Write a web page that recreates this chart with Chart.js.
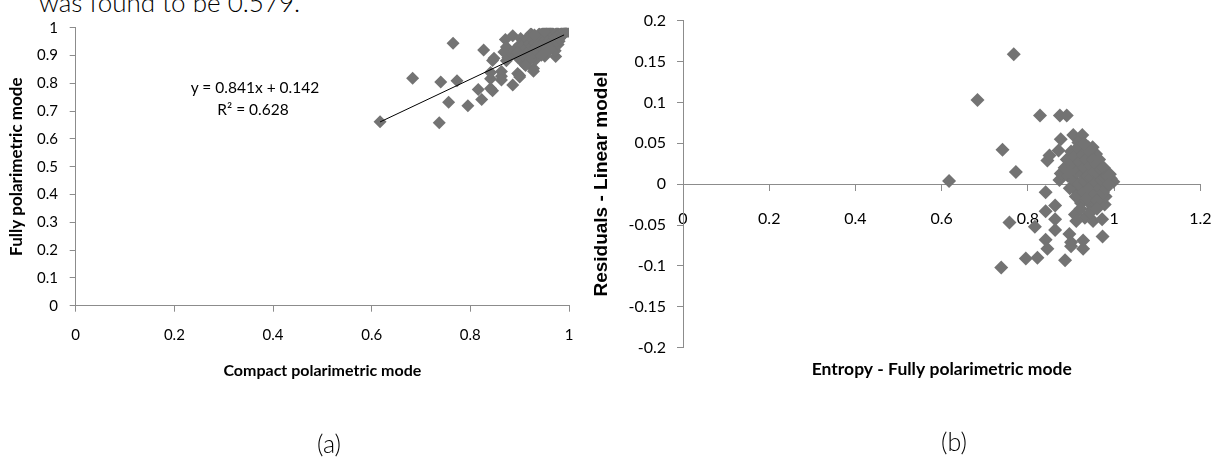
<!DOCTYPE html>
<html lang="en">
<head>
<meta charset="UTF-8"/>
<title>Entropy: compact vs fully polarimetric mode</title>
<style>
  body { margin:0; background:#fff; width:1231px; height:459px; overflow:hidden; position:relative; font-family:Lato, sans-serif; color:#000; }
  canvas { position:absolute; top:0; }
  #chartA { left:0; }
  #chartB { left:590px; }
  .txt { position:absolute; white-space:nowrap; line-height:1; }
  .c { transform:translate(-50%,-50%); }
</style>
<script src="https://cdn.jsdelivr.net/npm/chart.js@4.4.0/dist/chart.umd.min.js"></script>
</head>
<body>
  <div class="txt" style="left:39px;top:-11px;font-size:26px;line-height:26px;font-weight:300;">was found to be 0.579.</div>
  <canvas id="chartA" width="600" height="459"></canvas>
  <canvas id="chartB" width="641" height="459"></canvas>
  <div class="txt c" style="left:255px;top:88px;font-size:15.5px;">y = 0.841x + 0.142</div>
  <div class="txt c" style="left:253px;top:110px;font-size:15.5px;">R² = 0.628</div>
  <div class="txt c" style="left:329px;top:443px;font-size:25px;font-weight:300;">(a)</div>
  <div class="txt c" style="left:954px;top:441px;font-size:25px;font-weight:300;">(b)</div>

<script>
// (a) entropy, compact polarimetric mode (x) vs fully polarimetric mode (y)
var compactMode = [0.617,0.683,0.737,0.740,0.756,0.765,0.773,0.795,0.823,0.827,
  0.816,0.845,0.841,0.845,0.863,0.886,0.896,0.900,0.928,0.973,
  0.871,0.886,0.841,0.863,0.863,0.841,0.928,0.909,0.932,0.951,
  0.972,0.923,0.946,0.978,0.980,0.909,0.873,0.876,0.873,0.902,
  0.923,0.915,0.940,0.958,0.868,0.848,0.992,0.998,0.900,
  0.885,0.890,0.893,0.897,0.900,0.903,0.906,0.908,0.911,0.913,
  0.916,0.918,0.920,0.922,0.925,0.927,0.929,0.931,0.933,0.935,
  0.937,0.939,0.941,0.943,0.945,0.947,0.949,0.951,0.953,0.955,
  0.957,0.959,0.961,0.963,0.965,0.967,0.969,0.971,0.974,0.976,
  0.978,0.981,0.984,0.987,0.990,0.896,0.950,0.930,0.912,0.944,0.960];
var fullyMode = [0.662,0.818,0.658,0.805,0.732,0.944,0.809,0.719,0.742,0.920,
  0.778,0.773,0.816,0.882,0.842,0.794,0.835,0.828,0.843,0.896,
  0.958,0.971,0.781,0.825,0.812,0.839,0.853,0.870,0.885,0.897,
  0.917,0.895,0.913,0.940,0.951,0.900,0.881,0.892,0.931,0.961,
  0.978,0.963,0.978,0.985,0.913,0.890,0.983,0.986,0.823,
  0.906,0.921,0.903,0.891,0.939,0.923,0.909,0.939,0.893,0.925,
  0.957,0.914,0.943,0.887,0.932,0.958,0.913,0.945,0.930,0.958,
  0.912,0.942,0.973,0.930,0.959,0.946,0.910,0.972,0.958,0.933,
  0.949,0.974,0.930,0.964,0.984,0.950,0.975,0.964,0.951,0.983,
  0.973,0.962,0.980,0.972,0.987,0.911,0.986,0.974,0.864,0.901,0.919];
// trendline end points as drawn
var trendX = [0.617, 0.990];
var trendY = [0.661, 0.974];

// (b) residuals of the linear model
var entropyFull = [0.617,0.683,0.738,0.741,0.757,0.767,0.772,0.795,0.822,0.828,
  0.816,0.845,0.841,0.845,0.863,0.886,0.896,0.900,0.928,0.973,
  0.874,0.890,0.841,0.863,0.863,0.841,0.928,0.909,0.932,0.951,
  0.972,0.923,0.946,0.978,0.980,0.909,0.873,0.876,0.876,0.905,
  0.926,0.917,0.940,0.958,0.871,0.850,0.992,0.998,0.900,
  0.885,0.890,0.893,0.897,0.900,0.903,0.906,0.908,0.911,0.913,
  0.916,0.918,0.920,0.922,0.925,0.927,0.929,0.931,0.933,0.935,
  0.937,0.939,0.941,0.943,0.945,0.947,0.949,0.951,0.953,0.955,
  0.957,0.959,0.961,0.963,0.965,0.967,0.969,0.971,0.974,0.976,
  0.978,0.981,0.984,0.987,0.990,0.896,0.950,0.930,0.912,0.944,0.960];
var residuals = [0.004,0.103,-0.102,0.042,-0.047,0.159,0.015,-0.091,-0.090,0.084,
  -0.052,-0.079,-0.033,0.029,-0.026,-0.093,-0.061,-0.071,-0.079,-0.064,
  0.084,0.084,-0.068,-0.043,-0.056,-0.010,-0.069,-0.037,-0.041,-0.045,
  -0.043,-0.023,-0.025,-0.025,-0.015,-0.007,0.005,0.013,0.055,0.060,
  0.060,0.051,0.045,0.037,0.041,0.035,0.007,0.003,-0.076,
  0.020,0.030,0.010,-0.005,0.040,0.022,0.005,0.033,-0.015,0.015,
  0.045,0.000,0.027,-0.030,0.012,0.036,-0.010,0.020,0.003,0.030,
  -0.018,0.010,0.040,-0.005,0.022,0.008,-0.030,0.030,0.015,-0.012,
  0.002,0.025,-0.020,0.012,0.030,-0.005,0.018,0.005,-0.010,0.020,
  0.008,-0.005,0.010,0.000,0.012,0.015,0.045,0.050,-0.045,-0.035,-0.030];

// tick labels
var ticksA_x = [0, 0.2, 0.4, 0.6, 0.8, 1];
var ticksA_y = [0, 0.1, 0.2, 0.3, 0.4, 0.5, 0.6, 0.7, 0.8, 0.9, 1];
var ticksB_x = [0, 0.2, 0.4, 0.6, 0.8, 1, 1.2];
var ticksB_y = [-0.2, -0.15, -0.1, -0.05, 0, 0.05, 0.1, 0.15, 0.2];

var axisGrey = '#8c8c8c';
var markGrey = '#737373';

function pairs(xs, ys) {
  var out = [];
  for (var i = 0; i < xs.length; i++) out.push({x: xs[i], y: ys[i]});
  return out;
}
function setTicks(list) {
  return function(scale) { scale.ticks = list.map(function(v){ return {value: v}; }); };
}
function fmt(v) { return String(+(+v).toFixed(2)); }

function axis(extra) {
  var base = {
    type: 'linear',
    grid: { drawOnChartArea: false, drawTicks: true, tickLength: 6, color: axisGrey },
    border: { display: true, color: axisGrey, width: 1 },
    ticks: { color: '#000', autoSkip: false, maxRotation: 0, callback: fmt },
    title: { display: true, color: '#000' }
  };
  for (var k in extra) {
    if (typeof extra[k] === 'object' && base[k] && !Array.isArray(extra[k])) {
      base[k] = Object.assign({}, base[k], extra[k]);
    } else {
      base[k] = extra[k];
    }
  }
  return base;
}

function draw() {
  Chart.defaults.font.family = 'Lato';
  Chart.defaults.color = '#000';

  new Chart(document.getElementById('chartA'), {
    type: 'scatter',
    data: {
      datasets: [
        { type: 'line', data: pairs(trendX, trendY), borderColor: '#000', borderWidth: 1,
          pointRadius: 0, fill: false, order: 0 },
        { data: pairs(compactMode, fullyMode), pointStyle: 'rectRot', pointRadius: 6.5,
          backgroundColor: markGrey, borderColor: markGrey, borderWidth: 0, order: 1 }
      ]
    },
    options: {
      responsive: false, animation: false, devicePixelRatio: 1,
      layout: { padding: { left: 0, top: 27.7, right: 31, bottom: 75.7 } },
      plugins: { legend: { display: false }, tooltip: { enabled: false } },
      scales: {
        x: axis({ min: 0, max: 1, afterBuildTicks: setTicks(ticksA_x),
          afterFit: function(s){ s.height = 77.6; },
          ticks: { padding: 14.8, font: { size: 15 } },
          title: { text: 'Compact polarimetric mode', font: { size: 16, weight: 'bold' }, padding: { top: 4, bottom: 3 } } }),
        y: axis({ min: 0, max: 1, afterBuildTicks: setTicks(ticksA_y),
          afterFit: function(s){ s.width = 75.7; },
          ticks: { padding: 11.7, font: { size: 15 } },
          title: { text: 'Fully polarimetric mode', font: { size: 17, weight: 'bold' }, padding: { top: 6.8, bottom: 0 } } })
      }
    }
  });

  new Chart(document.getElementById('chartB'), {
    type: 'scatter',
    data: {
      datasets: [
        { data: pairs(entropyFull, residuals), pointStyle: 'rectRot', pointRadius: 7,
          backgroundColor: markGrey, borderColor: markGrey, borderWidth: 0 }
      ]
    },
    options: {
      responsive: false, animation: false, devicePixelRatio: 1,
      layout: { padding: { left: 0, top: 14.3, right: 20, bottom: 111.3 } },
      plugins: { legend: { display: false }, tooltip: { enabled: false } },
      scales: {
        x: axis({ min: 0, max: 1.2, position: { y: 0 }, afterBuildTicks: setTicks(ticksB_x),
          afterFit: function(s){ s.height = 199.5; },
          ticks: { padding: 19.4, font: { size: 16 } },
          title: { text: 'Entropy - Fully polarimetric mode', font: { size: 17.5, weight: 'bold' }, padding: { top: 4, bottom: 4 } } }),
        y: axis({ min: -0.2, max: 0.2, afterBuildTicks: setTicks(ticksB_y),
          afterFit: function(s){ s.width = 93; },
          ticks: { padding: 11, font: { size: 16 } },
          title: { text: 'Residuals - Linear model', font: { family: '"Liberation Sans", Arial, sans-serif', size: 19, weight: 'bold' }, padding: { top: 0.6, bottom: 0 } } })
      }
    }
  });
}

Promise.all([
  document.fonts.load('15px Lato'),
  document.fonts.load('bold 16px Lato'),
  document.fonts.load('300 26px Lato'),
  document.fonts.load('bold 19px "Liberation Sans"')
]).then(draw, draw);
</script>
</body>
</html>
